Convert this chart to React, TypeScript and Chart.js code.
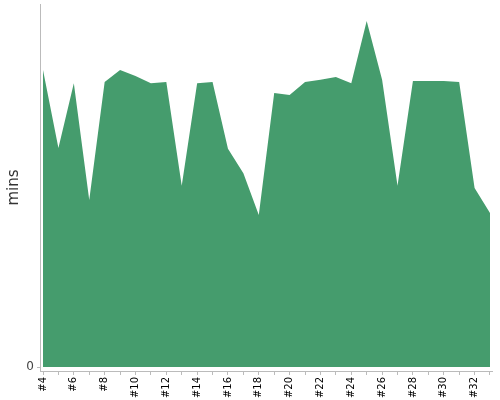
import React, { useEffect, useRef } from "react";
import { Chart, registerables } from "chart.js";

Chart.register(...registerables);

const categories = [
  "#4", "#5", "#6", "#7", "#8", "#9", "#10", "#11", "#12", "#13",
  "#14", "#15", "#16", "#17", "#18", "#19", "#20", "#21", "#22", "#23",
  "#24", "#25", "#26", "#27", "#28", "#29", "#30", "#31", "#32", "#33",
];

const minutes = [
  81.8, 60.3, 78.2, 46.0, 78.5, 81.8, 80.2, 78.2, 78.5, 49.9,
  78.2, 78.5, 60.1, 53.4, 41.9, 75.5, 74.9, 78.5, 79.1, 79.9,
  78.2, 95.3, 79.1, 49.9, 78.8, 78.8, 78.8, 78.5, 49.3, 42.4,
];

const yTicks = [0];
const yTitle = "mins";

export default function App() {
  const ref = useRef<HTMLCanvasElement | null>(null);

  useEffect(() => {
    document.body.style.margin = "0";
    const canvas = ref.current;
    if (!canvas) return;
    const chart = new Chart(canvas, {
      type: "line",
      data: {
        datasets: [
          {
            data: minutes.map((v, i) => ({ x: i, y: v })),
            fill: "origin",
            backgroundColor: "#459c6d",
            borderColor: "#459c6d",
            borderWidth: 0,
            pointRadius: 0,
            tension: 0,
          },
        ],
      },
      options: {
        responsive: false,
        animation: false,
        layout: { padding: { top: 4, right: 8, left: 0, bottom: 0 } },
        plugins: { legend: { display: false }, tooltip: { enabled: false } },
        scales: {
          x: {
            type: "linear",
            min: -0.195,
            max: 29.13,
            afterBuildTicks: (scale: any) => {
              scale.ticks = categories.map((_, i) => ({ value: i }));
            },
            afterFit: (scale: any) => {
              scale.height = 29;
              scale.paddingLeft = 0;
              scale.paddingRight = 0;
            },
            grid: {
              drawOnChartArea: false,
              drawTicks: true,
              tickLength: 4,
              color: "#bbbbbb",
            },
            border: { display: true, color: "#bbbbbb" },
            ticks: {
              autoSkip: false,
              minRotation: 90,
              maxRotation: 90,
              padding: 2,
              color: "#000000",
              font: { family: "DejaVu Sans", size: 10 },
              callback: (v: any) => {
                const i = Math.round(Number(v));
                return i % 2 === 0 ? categories[i] : "";
              },
            },
          },
          y: {
            min: -1.1,
            max: 100,
            afterBuildTicks: (scale: any) => {
              scale.ticks = yTicks.map((v) => ({ value: v }));
            },
            afterFit: (scale: any) => {
              scale.width = 40;
              scale.paddingTop = 0;
              scale.paddingBottom = 0;
            },
            grid: {
              drawOnChartArea: false,
              drawTicks: true,
              tickLength: 3,
              color: "#bbbbbb",
            },
            border: { display: true, color: "#bbbbbb" },
            ticks: {
              padding: 3,
              color: "#444444",
              font: { family: "DejaVu Sans", size: 12 },
            },
            title: {
              display: true,
              text: yTitle,
              color: "#333333",
              font: { family: "DejaVu Sans", size: 15 },
              padding: { top: 5, bottom: 0 },
            },
          },
        },
      },
    });
    return () => chart.destroy();
  }, []);

  return (
    <div style={{ width: 500, height: 400 }}>
      <canvas ref={ref} width={500} height={400} />
    </div>
  );
}
